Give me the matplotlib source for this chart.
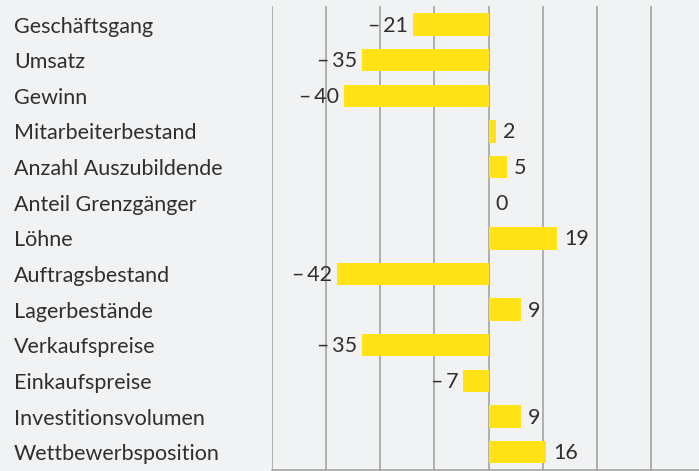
import matplotlib.pyplot as plt
from matplotlib.transforms import blended_transform_factory

categories = ['Geschäftsgang', 'Umsatz', 'Gewinn', 'Mitarbeiterbestand',
              'Anzahl Auszubildende', 'Anteil Grenzgänger', 'Löhne',
              'Auftragsbestand', 'Lagerbestände', 'Verkaufspreise',
              'Einkaufspreise', 'Investitionsvolumen', 'Wettbewerbsposition']
values = [-21, -35, -40, 2, 5, 0, 19, -42, 9, -35, -7, 9, 16]
grid_ticks = [-60, -45, -30, -15, 0, 15, 30, 45]

bg = '#f1f2f4'
yellow = '#ffe314'
textcol = '#2f2f2f'
gridcol = '#9c9c9c'

plt.rcParams['font.family'] = ['Lato', 'DejaVu Sans']

fig = plt.figure(figsize=(6.99, 4.71), dpi=100, facecolor=bg)
ax = fig.add_axes([272 / 699, 1 / 471, 1 - 272 / 699, 464 / 471])
ax.set_facecolor(bg)

for t in grid_ticks:
    ax.axvline(t, color=gridcol, lw=1.1, zorder=1)

y = list(range(len(categories)))
ax.barh(y, values, height=0.63, color=yellow, zorder=2)

ax.set_xlim(-60, 58.25)
ax.set_ylim(12.5, -0.52)

for i, v in enumerate(values):
    if v < 0:
        ax.annotate('\u2013\u2009' + str(-v), (v, i), xytext=(-5, -1),
                    textcoords='offset pixels', ha='right', va='center',
                    fontsize=15.5, color=textcol)
    else:
        ax.annotate(str(v), (v, i), xytext=(7, -1),
                    textcoords='offset pixels', ha='left', va='center',
                    fontsize=15.5, color=textcol)

trans = blended_transform_factory(fig.transFigure, ax.transData)
for i, c in enumerate(categories):
    ax.annotate(c, (14 / 699, i), xycoords=trans, xytext=(0, -2),
                textcoords='offset pixels', ha='left', va='center',
                fontsize=15.5, color=textcol, annotation_clip=False)

for s in ['top', 'right', 'left']:
    ax.spines[s].set_visible(False)
ax.spines['bottom'].set_color(gridcol)
ax.spines['bottom'].set_linewidth(1.1)
ax.set_xticks([])
ax.set_yticks([])

fig.savefig('out.png', dpi=100, facecolor=bg)
